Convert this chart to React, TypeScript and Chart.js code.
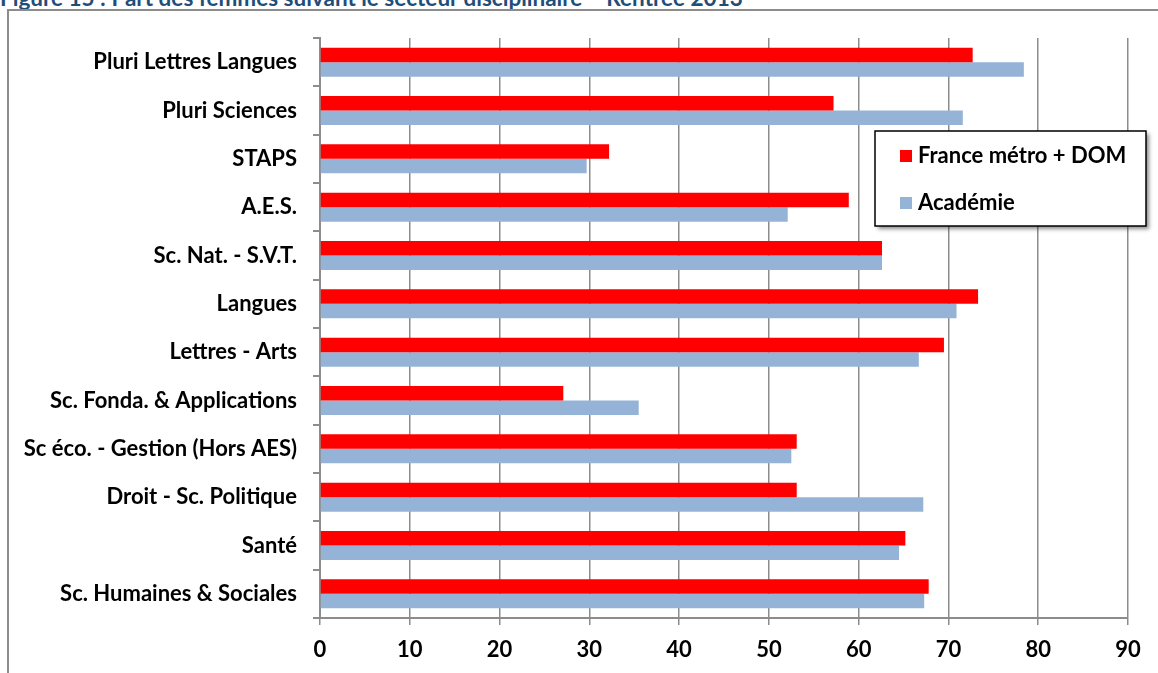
import React, { useEffect, useRef } from "react";
import { Chart, registerables } from "chart.js";

Chart.register(...registerables);

const categories = [
  "Pluri Lettres Langues",
  "Pluri Sciences",
  "STAPS",
  "A.E.S.",
  "Sc. Nat. - S.V.T.",
  "Langues",
  "Lettres - Arts",
  "Sc. Fonda. & Applications",
  "Sc éco. - Gestion (Hors AES)",
  "Droit - Sc. Politique",
  "Santé",
  "Sc. Humaines & Sociales",
];

const franceValues = [72.7, 57.2, 32.2, 58.9, 62.6, 73.3, 69.5, 27.1, 53.1, 53.1, 65.2, 67.8];
const academieValues = [78.4, 71.6, 29.7, 52.1, 62.6, 70.9, 66.7, 35.5, 52.5, 67.2, 64.5, 67.3];

const seriesLabels = ["France métro + DOM", "Académie"];
const seriesColors = ["#FF0000", "#95B3D7"];

const xTicks = [0, 10, 20, 30, 40, 50, 60, 70, 80, 90];

const titleText = "Figure 15 : Part des femmes suivant le secteur disciplinaire – Rentrée 2013";

const LABEL_FONT = "Lato, 'Open Sans', sans-serif";

const legendPlugin = {
  id: "boxLegend",
  afterDraw(chart: any) {
    const ctx = chart.ctx;
    const x = 875, y = 131, w = 271, h = 95;
    ctx.save();
    ctx.shadowColor = "rgba(0,0,0,0.45)";
    ctx.shadowBlur = 4;
    ctx.shadowOffsetX = 3;
    ctx.shadowOffsetY = 3;
    ctx.fillStyle = "#ffffff";
    ctx.fillRect(x, y, w, h);
    ctx.shadowColor = "transparent";
    ctx.strokeStyle = "#000000";
    ctx.lineWidth = 1.5;
    ctx.strokeRect(x, y, w, h);
    ctx.font = "bold 22px " + LABEL_FONT;
    ctx.textBaseline = "middle";
    ctx.textAlign = "left";
    chart.data.datasets.forEach((ds: any, i: number) => {
      const cy = y + 25 + i * 47;
      ctx.fillStyle = ds.backgroundColor;
      ctx.fillRect(x + 25, cy - 6, 12, 12);
      ctx.fillStyle = "#000000";
      ctx.fillText(ds.label, x + 43, cy);
    });
    ctx.restore();
  },
};

export default function App() {
  const ref = useRef<HTMLCanvasElement>(null);

  useEffect(() => {
    if (!ref.current) return;
    const chart = new Chart(ref.current, {
      type: "bar",
      data: {
        labels: categories,
        datasets: [
          {
            label: seriesLabels[0],
            data: franceValues,
            backgroundColor: seriesColors[0],
            categoryPercentage: 0.6,
            barPercentage: 1,
          },
          {
            label: seriesLabels[1],
            data: academieValues,
            backgroundColor: seriesColors[1],
            categoryPercentage: 0.6,
            barPercentage: 1,
          },
        ],
      },
      plugins: [legendPlugin],
      options: {
        indexAxis: "y",
        animation: false,
        responsive: false,
        devicePixelRatio: 1,
        layout: { padding: { top: 38, right: 30, left: 0, bottom: 0 } },
        plugins: {
          legend: { display: false },
          tooltip: { enabled: false },
          title: { display: false },
        },
        scales: {
          x: {
            min: 0,
            max: 90,
            afterBuildTicks: (scale: any) => {
              scale.ticks = xTicks.map((v) => ({ value: v }));
            },
            afterFit: (scale: any) => {
              scale.height = 673 - 618;
            },
            grid: {
              color: "#8C8C8C",
              lineWidth: 1.5,
              drawTicks: true,
              tickLength: 7,
            },
            border: { display: true, color: "#8C8C8C", width: 2 },
            ticks: {
              color: "#000000",
              padding: 12,
              font: { family: LABEL_FONT, weight: "bold", size: 22 },
            },
          },
          y: {
            afterFit: (scale: any) => {
              scale.width = 320;
            },
            grid: {
              drawOnChartArea: false,
              drawTicks: true,
              tickLength: 7,
              color: "#8C8C8C",
              lineWidth: 2,
            },
            border: { display: true, color: "#8C8C8C", width: 2 },
            ticks: {
              color: "#000000",
              padding: 16,
              font: { family: LABEL_FONT, weight: "bold", size: 22 },
            },
          },
        },
      },
    });
    return () => chart.destroy();
  }, []);

  return (
    <div
      style={{
        position: "fixed",
        left: 0,
        top: 0,
        width: 1158,
        height: 673,
        overflow: "hidden",
        background: "#ffffff",
      }}
    >
      <div
        style={{
          position: "absolute",
          left: 0,
          top: -16,
          whiteSpace: "nowrap",
          fontFamily: LABEL_FONT,
          fontWeight: "bold",
          fontSize: 22.5,
          color: "#1F4E79",
        }}
      >
        {titleText}
      </div>
      <div
        style={{
          position: "absolute",
          left: 7,
          top: 9,
          width: 1200,
          height: 700,
          borderLeft: "2px solid #8C8C8C",
          borderTop: "2px solid #8C8C8C",
        }}
      />
      <canvas
        ref={ref}
        width={1158}
        height={673}
        style={{ position: "absolute", left: 0, top: 0, width: 1158, height: 673 }}
      />
    </div>
  );
}
